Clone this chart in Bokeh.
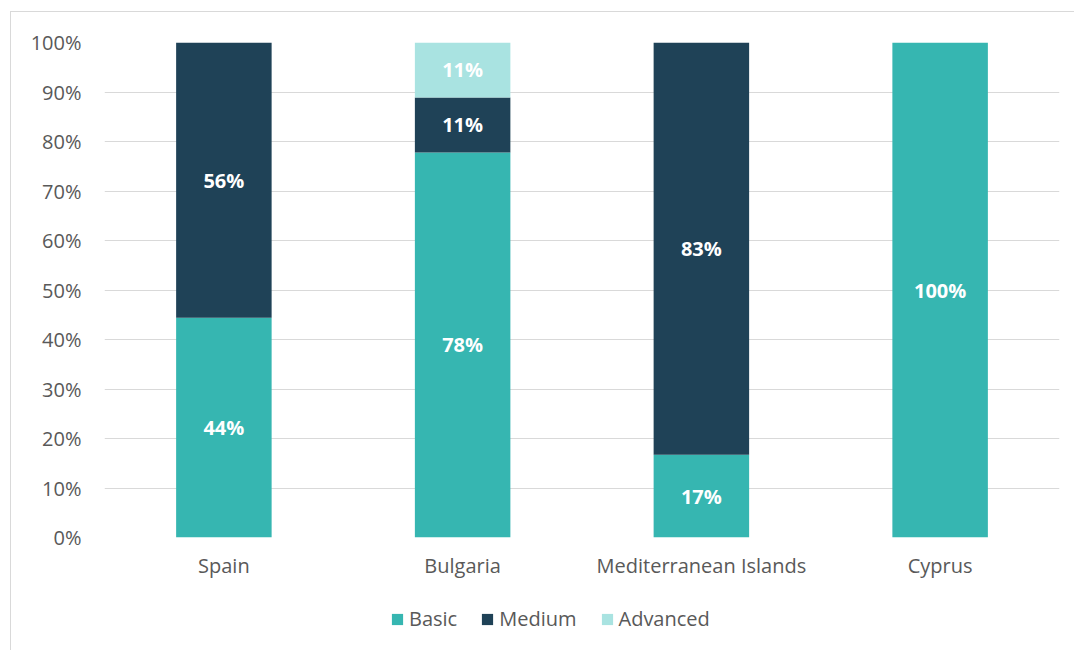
from bokeh.plotting import figure
from bokeh.layouts import column
from bokeh.models import ColumnDataSource, Legend, LegendItem, NumeralTickFormatter, FixedTicker, LabelSet
from bokeh.core.properties import value
from bokeh.embed import file_html
from bokeh.resources import INLINE

categories = ["Spain", "Bulgaria", "Mediterranean Islands", "Cyprus"]
basic = [0.444, 0.778, 0.167, 1.0]
medium = [0.556, 0.111, 0.833, 0.0]
advanced = [0.0, 0.111, 0.0, 0.0]
series_names = ["Basic", "Medium", "Advanced"]
series_colors = ["#36B6B1", "#1F4257", "#A9E3E1"]
y_ticks = [0, 0.1, 0.2, 0.3, 0.4, 0.5, 0.6, 0.7, 0.8, 0.9, 1.0]

FONT = "Open Sans"
TXT = "#595959"

src = ColumnDataSource(dict(cat=categories, basic=basic, medium=medium, advanced=advanced))

p = figure(x_range=categories, y_range=(0, 1), width=1063, height=580,
           output_backend="svg", toolbar_location=None,
           min_border_left=93, min_border_right=15, min_border_top=30, min_border_bottom=55)
p.outline_line_color = None
p.background_fill_color = "white"
p.border_fill_color = "white"

rs = p.vbar_stack(["basic", "medium", "advanced"], x="cat", width=0.4, color=series_colors,
                  line_color=None, source=src)

# data labels
lx, ly, lt = [], [], []
for i, c in enumerate(categories):
    cum = 0.0
    for vals in (basic, medium, advanced):
        v = vals[i]
        if v > 0:
            lx.append(c)
            ly.append(cum + v / 2)
            lt.append(f"{round(v * 100)}%")
        cum += v
lsrc = ColumnDataSource(dict(x=lx, y=ly, t=lt))
labels = LabelSet(x="x", y="y", text="t", source=lsrc, text_align="center", text_baseline="middle",
                  text_color="white", text_font=value(FONT), text_font_style="bold",
                  text_font_size="20px")
p.add_layout(labels)

ticker = FixedTicker(ticks=y_ticks)
p.yaxis.ticker = ticker
p.ygrid.ticker = ticker
p.yaxis.formatter = NumeralTickFormatter(format="0%")
p.ygrid.grid_line_color = "#D9D9D9"
p.ygrid.grid_line_width = 1
p.xgrid.grid_line_color = None

for ax in (p.xaxis, p.yaxis):
    ax.axis_line_color = None
    ax.major_tick_line_color = None
    ax.minor_tick_line_color = None
    ax.major_tick_out = 0
    ax.major_tick_in = 0
    ax.major_label_text_font = FONT
    ax.major_label_text_font_size = "20px"
    ax.major_label_text_color = TXT
p.yaxis.major_label_standoff = 23
p.xaxis.major_label_standoff = 14

# legend strip (separate figure below the chart; its bars lie outside its visible y range)
p2 = figure(x_range=p.x_range, y_range=(2, 3), width=1063, height=59,
            output_backend="svg", toolbar_location=None,
            x_axis_type=None, y_axis_type=None,
            min_border_left=93, min_border_right=15, min_border_top=0, min_border_bottom=0)
p2.outline_line_color = None
p2.xgrid.grid_line_color = None
p2.ygrid.grid_line_color = None
proxies = p2.vbar_stack(["basic", "medium", "advanced"], x="cat", width=0.4, color=series_colors,
                        line_color=None, source=src)

legend = Legend(items=[LegendItem(label=n, renderers=[r]) for n, r in zip(series_names, proxies)],
                orientation="horizontal", location=(286, 19),
                label_text_font=FONT, label_text_font_size="20px", label_text_color=TXT,
                glyph_width=14, glyph_height=14, label_standoff=5, spacing=23,
                border_line_color=None, background_fill_alpha=0, padding=0, margin=0)
p2.add_layout(legend, "center")

layout = column(p, p2, spacing=0, margin=(11, 0, 0, 10),
                styles={"border-left": "1px solid #D9D9D9", "border-top": "1px solid #D9D9D9"})

open("out.html", "w").write(file_html(layout, INLINE))
